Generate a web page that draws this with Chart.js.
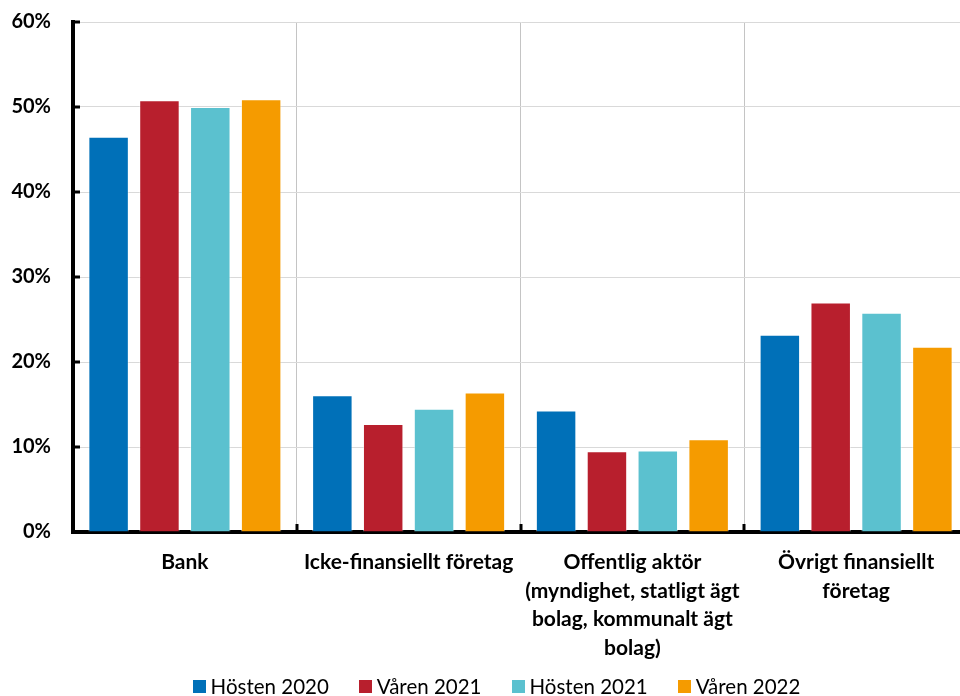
<!DOCTYPE html>
<html lang="sv">
<head>
<meta charset="utf-8">
<script src="https://cdn.jsdelivr.net/npm/chart.js@4.4.1/dist/chart.umd.min.js"></script>
<style>
  html, body { margin: 0; padding: 0; background: #fff; overflow: hidden; }
  #wrap { position: relative; width: 960px; height: 696px; overflow: hidden; }
  #legend { position: absolute; left: 0; top: 674px; width: 993px; display: flex; justify-content: center;
            font-family: Lato, sans-serif; font-size: 20.5px; color: #000; line-height: 24px; }
  #legend span.item { display: flex; align-items: center; margin: 0 15px; white-space: nowrap; }
  #legend span.box { display: inline-block; width: 13px; height: 13px; margin-right: 5px; }
</style>
</head>
<body>
<div id="wrap">
  <canvas id="andelCanvas" width="976" height="696"></canvas>
  <div id="legend"></div>
</div>
<script>
const categories = [
  "Bank",
  "Icke-finansiellt företag",
  ["Offentlig aktör", "(myndighet, statligt ägt", "bolag, kommunalt ägt", "bolag)"],
  ["Övrigt finansiellt", "företag"]
];
const seriesNames = ["Hösten 2020", "Våren 2021", "Hösten 2021", "Våren 2022"];
const seriesColors = ["#0070b8", "#b81f2d", "#5bc1cf", "#f59b00"];

const hosten2020 = [46.5, 16.1, 14.3, 23.2];
const varen2021 = [50.8, 12.7, 9.5, 27.0];
const hosten2021 = [50.0, 14.5, 9.6, 25.8];
const varen2022 = [50.9, 16.4, 10.9, 21.8];

const yTicks = [0, 10, 20, 30, 40, 50, 60];

const values = [hosten2020, varen2021, hosten2021, varen2022];

// small black tick marks drawn inside the plot, like the original axes
const innerTicks = {
  id: "innerTicks",
  afterDraw(chart) {
    const ctx = chart.ctx;
    const area = chart.chartArea;
    const x = chart.scales.x, y = chart.scales.y;
    ctx.save();
    ctx.strokeStyle = "#000";
    ctx.lineWidth = 3;
    ctx.beginPath();
    yTicks.forEach(v => {
      const py = Math.round(y.getPixelForValue(v));
      ctx.moveTo(area.left, py);
      ctx.lineTo(area.left + 7, py);
    });
    for (let i = 1; i < categories.length; i++) {
      const px = Math.round((x.getPixelForValue(i - 1) + x.getPixelForValue(i)) / 2);
      ctx.moveTo(px, area.bottom);
      ctx.lineTo(px, area.bottom - 8);
    }
    ctx.stroke();
    ctx.restore();
  }
};

const chart = new Chart(document.getElementById("andelCanvas"), {
  type: "bar",
  data: {
    labels: categories,
    datasets: seriesNames.map((name, i) => ({
      label: name,
      data: values[i],
      backgroundColor: seriesColors[i],
      borderColor: "rgba(255,255,255,0.45)",
      borderWidth: 1,
      categoryPercentage: 0.909,
      barPercentage: 0.796
    }))
  },
  options: {
    responsive: false,
    animation: false,
    layout: { padding: { left: 0, top: 22, right: 8, bottom: 0 } },
    plugins: {
      legend: { display: false },
      tooltip: { enabled: false }
    },
    scales: {
      x: {
        afterFit: s => { s.height = 164; },
        grid: { color: "#c4c4c4", lineWidth: 1, drawTicks: false },
        border: { color: "#000", width: 4 },
        ticks: {
          color: "#000",
          padding: 16,
          maxRotation: 0,
          autoSkip: false,
          font: { family: "Lato", size: 21, weight: "bold", lineHeight: 1.36 }
        }
      },
      y: {
        min: 0,
        max: 60,
        afterFit: s => { s.width = 73; s.paddingTop = 0; s.paddingBottom = 0; },
        afterBuildTicks: s => { s.ticks = yTicks.map(v => ({ value: v })); },
        grid: { color: "#d9d9d9", lineWidth: 1, drawTicks: false },
        border: { color: "#000", width: 4 },
        ticks: {
          color: "#000",
          padding: 22,
          callback: v => v + "%",
          font: { family: "Lato", size: 20, weight: "bold" }
        }
      }
    }
  },
  plugins: [innerTicks]
});

// legend built from the chart's own legend items
const legendEl = document.getElementById("legend");
chart.options.plugins.legend.labels.generateLabels(chart).forEach(item => {
  const el = document.createElement("span");
  el.className = "item";
  const box = document.createElement("span");
  box.className = "box";
  box.style.background = item.fillStyle;
  el.appendChild(box);
  el.appendChild(document.createTextNode(item.text));
  legendEl.appendChild(el);
});
</script>
</body>
</html>
